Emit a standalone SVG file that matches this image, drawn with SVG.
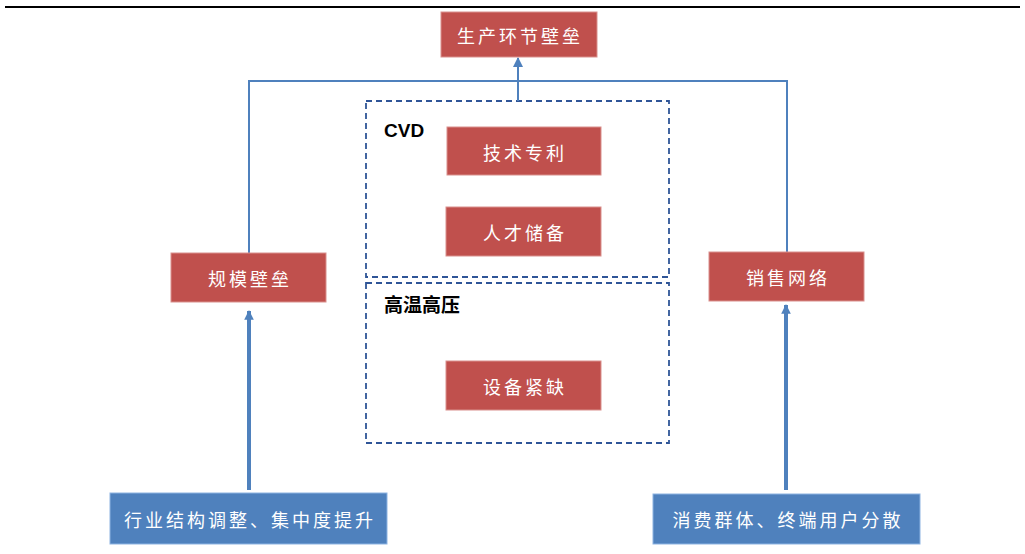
<svg xmlns="http://www.w3.org/2000/svg" width="1025" height="554" viewBox="0 0 1025 554">
<style>
.red{fill:#C0504D;stroke:#D9908D;stroke-width:1}
.blue{fill:#4F81BD;stroke:#8DB3E2;stroke-width:1}
.t{font-family:"Noto Sans CJK SC","Noto Sans CJK JP",sans-serif;font-size:18px;fill:#FFFFFF;text-anchor:middle;dominant-baseline:central;letter-spacing:3px}
.lbl{font-family:"Liberation Sans","Noto Sans CJK SC",sans-serif;font-size:19px;font-weight:bold;fill:#000000}
.dash{fill:none;stroke:#2F5597;stroke-width:1.8;stroke-dasharray:6,4}
.thin{fill:none;stroke:#4F81BD;stroke-width:2}
.thick{fill:none;stroke:#4F81BD;stroke-width:4}
</style>
<defs>
<marker id="ah" viewBox="0 0 10 10" refX="9" refY="5" markerWidth="5" markerHeight="5" orient="auto" markerUnits="strokeWidth">
<path d="M0,0 L10,5 L0,10 z" fill="#4F81BD"/>
</marker>
<marker id="ahs" viewBox="0 0 10 10" refX="9" refY="5" markerWidth="2.4" markerHeight="2.4" orient="auto" markerUnits="strokeWidth">
<path d="M0,0 L10,5 L0,10 z" fill="#4F81BD"/>
</marker>
</defs>
<rect width="1025" height="554" fill="#FFFFFF"/>
<line x1="5" y1="7" x2="1020" y2="7" stroke="#000000" stroke-width="2"/>

<g id="containers">
<rect id="cvd-box" class="dash" x="366" y="101" width="303" height="176"/>
<text class="lbl" x="384" y="137">CVD</text>
<rect id="hthp-box" class="dash" x="366" y="283" width="303" height="160"/>
<text class="lbl" x="384" y="312">高温高压</text>
</g>

<g id="connectors">
<polyline class="thin" points="249,253 249,81 787,81 787,252"/>
<line class="thin" x1="518" y1="101" x2="518" y2="58" marker-end="url(#ah)"/>
<line class="thick" x1="249" y1="490" x2="249" y2="311" marker-end="url(#ahs)"/>
<line class="thick" x1="786" y1="490" x2="786" y2="305" marker-end="url(#ahs)"/>
</g>

<g id="n-top"><rect class="red" x="441" y="12" width="156" height="45"/><text class="t" x="520" y="35">生产环节壁垒</text></g>
<g id="n-tech"><rect class="red" x="447" y="127" width="154" height="48"/><text class="t" x="525" y="152">技术专利</text></g>
<g id="n-talent"><rect class="red" x="446" y="207" width="155" height="49"/><text class="t" x="525" y="232">人才储备</text></g>
<g id="n-equip"><rect class="red" x="446" y="361" width="155" height="49"/><text class="t" x="525" y="386">设备紧缺</text></g>
<g id="n-scale"><rect class="red" x="171" y="253" width="155" height="49"/><text class="t" x="250" y="278">规模壁垒</text></g>
<g id="n-sales"><rect class="red" x="709" y="252" width="155" height="49"/><text class="t" x="788" y="277">销售网络</text></g>
<g id="n-industry"><rect class="blue" x="110" y="493" width="277" height="51"/><text class="t" x="250" y="519">行业结构调整、集中度提升</text></g>
<g id="n-consumer"><rect class="blue" x="653" y="494" width="267" height="50"/><text class="t" x="788" y="519">消费群体、终端用户分散</text></g>
</svg>
